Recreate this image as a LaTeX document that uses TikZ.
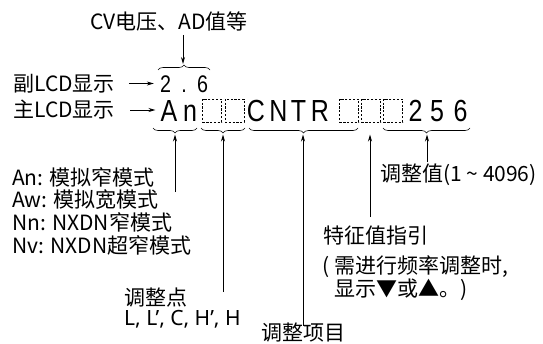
\documentclass[tikz,border=0pt]{standalone}
\usepackage{fontspec}
\setmainfont{Noto Sans CJK SC}
\newfontfamily\lcdfont[FakeStretch=0.82]{Liberation Sans}
\newfontfamily\latinfont{Noto Sans}
\usetikzlibrary{arrows.meta,positioning,decorations.pathreplacing,calc}

\begin{document}
\begin{tikzpicture}[
  x=1pt, y=-1pt,
  font=\fontsize{21}{22.7}\selectfont,
  >={Stealth[length=7pt,width=4pt]},
  every node/.style={inner sep=0pt},
  lbl/.style={align=left, anchor=west},
  seg/.style={font=\lcdfont\fontsize{30.5}{30.5}\selectfont, anchor=base},
  segsub/.style={font=\lcdfont\fontsize{24}{24}\selectfont, anchor=base},
  blank/.style={draw, dash pattern=on 2.2pt off 1.6pt, line width=0.6pt,
                minimum width=19pt, minimum height=23pt},
  brc/.style={decorate, decoration={brace, amplitude=5pt}, line width=0.6pt},
  pointer/.style={->, line width=0.8pt},
]
  \useasboundingbox (0,0) rectangle (543,343);

  % sub display: 2 . 6
  \node[segsub] (s2) at (165.5,92) {2};
  \node[segsub] (sdot) at (184,92) {.};
  \node[segsub] (s6) at (202.5,92) {6};

  % main display: An .. CNTR ... 256
  \node[seg] (mA) at (169,121.5) {A};
  \node[seg] (mn) at (190,121.5) {n};
  \node[blank] (b1) at (212,110.5) {};
  \node[blank] (b2) at (234.5,110.5) {};
  \node[seg] (mC) at (256,121.5) {C};
  \node[seg] (mN) at (278.5,121.5) {N};
  \node[seg] (mT) at (298.5,121.5) {T};
  \node[seg] (mR) at (320,121.5) {R};
  \node[blank] (b3) at (349,110.5) {};
  \node[blank] (b4) at (371,110.5) {};
  \node[blank] (b5) at (393,110.5) {};
  \node[seg] (v2) at (415.5,121.5) {2};
  \node[seg] (v5) at (437,121.5) {5};
  \node[seg] (v6) at (460.5,121.5) {6};

  % braces
  \draw[brc] (158,70) -- (210,70);
  \draw[brc] (197,128) -- (153,128);
  \draw[brc] (245,128) -- (201,128);
  \draw[brc] (358,128) -- (249,128);
  \draw[brc] (470,128) -- (383,128);

  \coordinate (tSub)  at (183,64);
  \coordinate (tMode) at (175,134.5);
  \coordinate (tPt)   at (223,134.5);
  \coordinate (tItem) at (303,134.5);
  \coordinate (tFeat) at (370,134.5);
  \coordinate (tVal)  at (427,134.5);

  % labels
  \node[lbl] (cv) at (90,21) {CV电压、AD值等};
  \node[lbl] (sublcd) at (13,83.5) {副LCD显示};
  \node[lbl] (mainlcd) at (13,110) {主LCD显示};
  \node[lbl] (modes) at (12,211) {An: 模拟窄模式\\Aw: 模拟宽模式\\Nn: NXDN窄模式\\Nv: NXDN超窄模式};
  \node[lbl] (pts) at (124,308) {调整点\\[-2pt]{\latinfont L, L’, C, H’, H}};
  \node (item) at (303,333) {调整项目};
  \node[lbl] (feat) at (323,235.5) {特征值指引};
  \node[lbl] (featnote) at (322,278) {( 需进行频率调整时,\\\hphantom{(}\ 显示▼或▲。)};
  \node[lbl] (val) at (380,175) {调整值(1 \textasciitilde{} 4096)};

  % pointers
  \draw[pointer] (cv.south -| tSub) ++(0,4) -- (tSub);
  \draw[pointer] ([xshift=-31pt]s2.west |- sublcd.east) -- ([xshift=-6pt]s2.west |- sublcd.east);
  \draw[pointer] ([xshift=-30pt]mA.west |- mainlcd.east) -- ([xshift=-5pt]mA.west |- mainlcd.east);
  \coordinate (bMode) at (175,192);
  \coordinate (bPt)   at (223,292);
  \coordinate (bFeat) at (370,217);
  \coordinate (bVal)  at (427,162);
  \draw[pointer] (bMode) -- (tMode);
  \draw[pointer] (bPt) -- (tPt);
  \draw[pointer] ([yshift=-3pt]item.north) -- (tItem);
  \draw[pointer] (bFeat) -- (tFeat);
  \draw[pointer] (bVal) -- (tVal);
\end{tikzpicture}
\end{document}
